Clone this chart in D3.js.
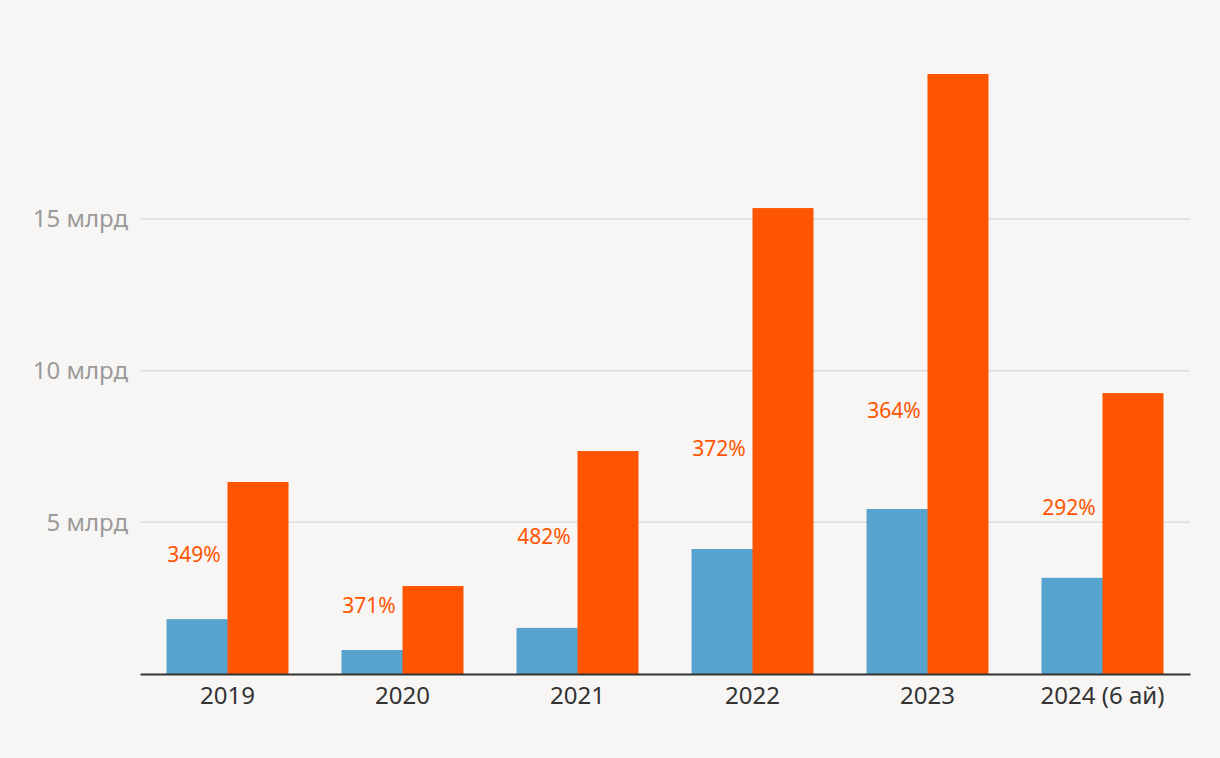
<!DOCTYPE html>
<html>
<head>
<meta charset="utf-8">
<script src="https://cdn.jsdelivr.net/npm/d3@7"></script>
<style>
  body { margin: 0; background: #f7f6f4; }
  svg { display: block; font-family: "Noto Sans", "Open Sans", sans-serif; }
</style>
</head>
<body>
<div id="chart"></div>
<script>
// Chart data (billions)
var years = ["2019", "2020", "2021", "2022", "2023", "2024 (6 ай)"];
var blueValues = [1.81, 0.79, 1.52, 4.12, 5.44, 3.17];
var orangeValues = [6.33, 2.90, 7.35, 15.36, 19.78, 9.26];
var pctLabels = ["349%", "371%", "482%", "372%", "364%", "292%"];
// height (in billions) where each percent label sits
var pctLabelAt = [3.7, 2.0, 4.3, 7.2, 8.45, 5.25];
var yTicks = [5, 10, 15];

var svgWidth = 1220;
var svgHeight = 758;
var margin = { top: 20, right: 30, bottom: 84, left: 140 };
var width = svgWidth - margin.left - margin.right;
var height = svgHeight - margin.top - margin.bottom;

var svg = d3.select("#chart")
  .append("svg")
  .attr("width", svgWidth)
  .attr("height", svgHeight);

svg.append("rect")
  .attr("width", svgWidth)
  .attr("height", svgHeight)
  .attr("fill", "#f7f6f4");

var chartGroup = svg.append("g")
  .attr("transform", `translate(${margin.left}, ${margin.top})`);

var x0 = d3.scaleBand()
  .domain(years)
  .range([0, width])
  .paddingInner(0.303)
  .paddingOuter(0.1515);

var x1 = d3.scaleBand()
  .domain(["blue", "orange"])
  .range([0, x0.bandwidth()]);

// 0 at y=674, 15 bn at y=219
var yScale = d3.scaleLinear()
  .domain([0, 15])
  .range([height, height - 455]);

// gridlines
chartGroup.append("g")
  .selectAll("line")
  .data(yTicks)
  .enter()
  .append("line")
  .attr("x1", 0)
  .attr("x2", width)
  .attr("y1", d => yScale(d))
  .attr("y2", d => yScale(d))
  .attr("stroke", "#dcdcdc")
  .attr("stroke-width", 1.5);

// y tick labels
chartGroup.append("g")
  .selectAll("text")
  .data(yTicks)
  .enter()
  .append("text")
  .attr("x", -12)
  .attr("y", d => yScale(d))
  .attr("dy", "0.35em")
  .attr("text-anchor", "end")
  .attr("fill", "#9a9a9a")
  .style("font-size", "24px")
  .text(d => d + " млрд");

var groups = chartGroup.selectAll(".year")
  .data(years)
  .enter()
  .append("g")
  .attr("transform", d => `translate(${x0(d)}, 0)`);

groups.append("rect")
  .attr("x", x1("blue"))
  .attr("width", x1.bandwidth() + 0.5)
  .attr("y", (d, i) => yScale(blueValues[i]))
  .attr("height", (d, i) => yScale(0) - yScale(blueValues[i]))
  .attr("fill", "#56a3cf");

groups.append("rect")
  .attr("x", x1("orange"))
  .attr("width", x1.bandwidth())
  .attr("y", (d, i) => yScale(orangeValues[i]))
  .attr("height", (d, i) => yScale(0) - yScale(orangeValues[i]))
  .attr("fill", "#ff5500");

groups.append("text")
  .attr("x", x1("blue") + x1.bandwidth() / 2 - 3)
  .attr("y", (d, i) => yScale(pctLabelAt[i]))
  .attr("text-anchor", "middle")
  .attr("fill", "#ff5500")
  .style("font-size", "21px")
  .text((d, i) => pctLabels[i]);

// x axis
var xAxis = chartGroup.append("g")
  .attr("transform", `translate(0, ${height})`)
  .call(d3.axisBottom(x0).tickSize(0).tickPadding(13));

xAxis.select(".domain")
  .attr("stroke", "#333")
  .attr("stroke-width", 2);

xAxis.selectAll("text")
  .attr("fill", "#333")
  .style("font-size", "24px")
  .style("font-family", "\"Noto Sans\", sans-serif");
</script>
</body>
</html>
